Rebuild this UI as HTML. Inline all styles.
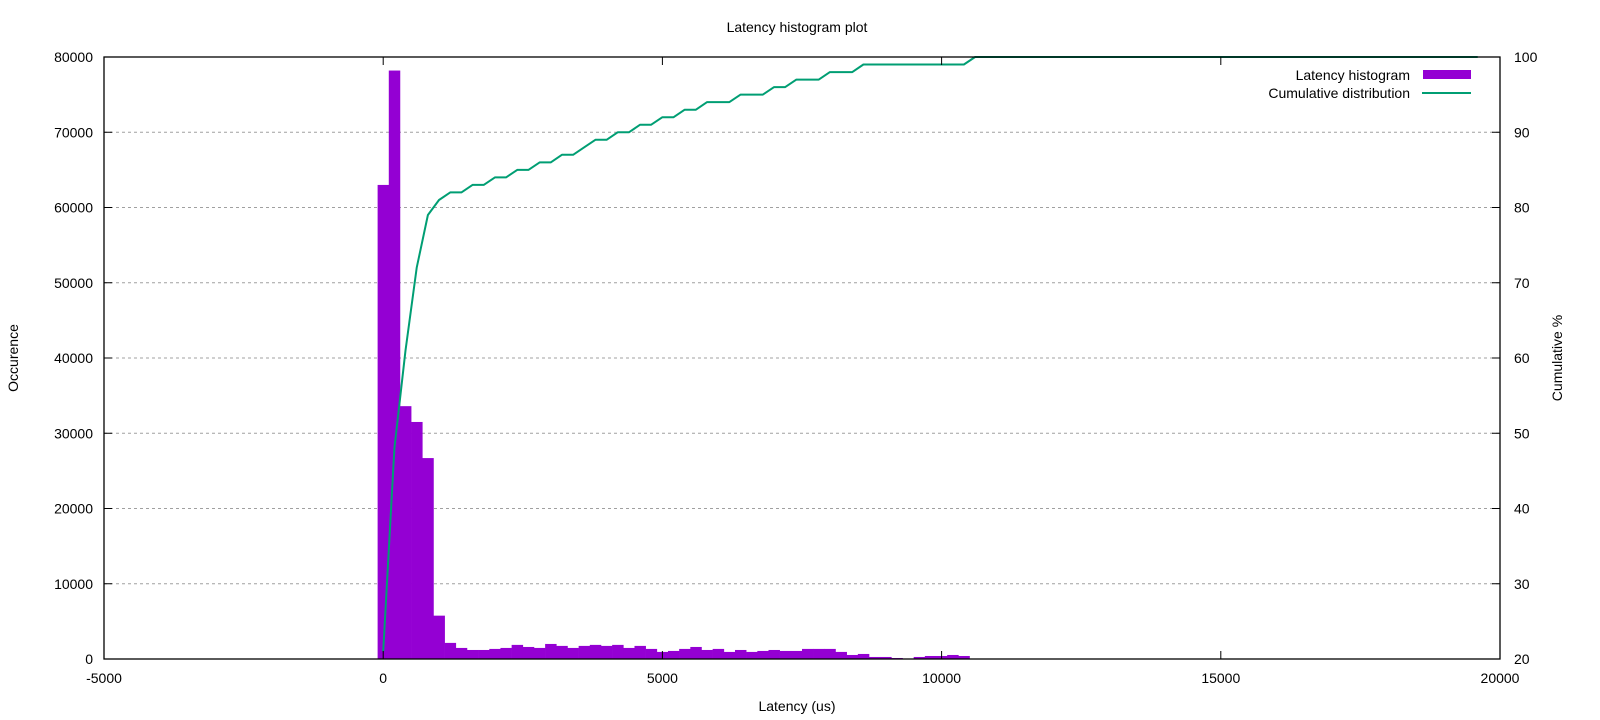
<!DOCTYPE html>
<html><head><meta charset="utf-8">
<style>
html,body{margin:0;padding:0;background:#fff;}
svg{display:block;font-family:"Liberation Sans",Arial,sans-serif;}
</style></head>
<body>
<svg id="chart" width="1600" height="720" viewBox="0 0 1600 720">
<text x="797" y="32" text-anchor="middle" font-size="14">Latency histogram plot</text>
<text x="797" y="711" text-anchor="middle" font-size="14">Latency (us)</text>
<text transform="translate(18,358) rotate(-90)" text-anchor="middle" font-size="14">Occurence</text>
<text transform="translate(1562,358) rotate(-90)" text-anchor="middle" font-size="14">Cumulative %</text>
<g id="grid"></g>
<g id="bars"></g>
<g id="cdf"></g>
<g id="axes"></g>
<g>
<text x="1410" y="80" text-anchor="end" font-size="14">Latency histogram</text>
<rect x="1423" y="70" width="48" height="9" fill="#9400d3"></rect>
<text x="1410" y="98" text-anchor="end" font-size="14">Cumulative distribution</text>
<line x1="1422" y1="93" x2="1471" y2="93" stroke="#009e73" stroke-width="2"></line>
</g>
</svg>
<script>
const binCenters = [0,200,400,600,800,1000,1200,1400,1600,1800,2000,2200,2400,2600,2800,3000,3200,3400,3600,3800,4000,4200,4400,4600,4800,5000,5200,5400,5600,5800,6000,6200,6400,6600,6800,7000,7200,7400,7600,7800,8000,8200,8400,8600,8800,9000,9200,9400,9600,9800,10000,10200,10400];
const binCounts = [63000,78200,33600,31500,26700,5760,2140,1470,1200,1200,1340,1470,1875,1600,1470,2000,1740,1470,1740,1875,1740,1875,1470,1740,1340,940,1070,1340,1600,1200,1340,940,1200,940,1070,1200,1070,1070,1340,1340,1340,940,535,670,270,270,134,0,270,400,400,535,400];
const cdfX = [0,200,400,600,800,1000,1200,1400,1600,1800,2000,2200,2400,2600,2800,3000,3200,3400,3600,3800,4000,4200,4400,4600,4800,5000,5200,5400,5600,5800,6000,6200,6400,6600,6800,7000,7200,7400,7600,7800,8000,8200,8400,8600,10400,10600,19600];
const cdfPct = [21,48,61,72,79,81,82,82,83,83,84,84,85,85,86,86,87,87,88,89,89,90,90,91,91,92,92,93,93,94,94,94,95,95,95,96,96,97,97,97,98,98,98,99,99,100,100];
const xTicks = [-5000,0,5000,10000,15000,20000];
const yTicks = [0,10000,20000,30000,40000,50000,60000,70000,80000];
const y2Ticks = [20,30,40,50,60,70,80,90,100];

const L=104,R=1500,T=57,B=659;
const X=v=>L+(v+5000)/25000*(R-L);
const Y=v=>B-v/80000*(B-T);
const Y2=v=>B-(v-20)/80*(B-T);
const NS='http://www.w3.org/2000/svg';
function mk(tag,attrs,parent){const e=document.createElementNS(NS,tag);for(const k in attrs)e.setAttribute(k,attrs[k]);parent.appendChild(e);return e;}
const grid=document.getElementById('grid'),bars=document.getElementById('bars'),cdf=document.getElementById('cdf'),axes=document.getElementById('axes');

yTicks.forEach(t=>{
  if(t>0&&t<80000){const g=mk('line',{x1:L,x2:R,y1:Y(t),y2:Y(t),stroke:'#a0a0a0','stroke-width':1,'stroke-dasharray':'3,3'},grid);
  
  }
  const tk=mk('line',{x1:L,x2:L+8,y1:Y(t),y2:Y(t),stroke:'#000'},axes);
  
  
  const lb=mk('text',{x:L-11,y:Y(t)+5,'text-anchor':'end','font-size':14},axes);lb.textContent=t;
  
  
});
y2Ticks.forEach(t=>{
  const tk=mk('line',{x1:R-8,x2:R,y1:Y2(t),y2:Y2(t),stroke:'#000'},axes);
  
  
  const lb=mk('text',{x:R+14,y:Y2(t)+5,'text-anchor':'start','font-size':14},axes);lb.textContent=t;
  
  
});
xTicks.forEach(t=>{
  const tk=mk('line',{x1:X(t),x2:X(t),y1:B,y2:B-8,stroke:'#000'},axes);
  
  
  const tk2=mk('line',{x1:X(t),x2:X(t),y1:T,y2:T+8,stroke:'#000'},axes);
  
  
  const lb=mk('text',{x:X(t),y:B+24,'text-anchor':'middle','font-size':14},axes);lb.textContent=t;
  
  
});
const frame=mk('rect',{x:L,y:T,width:R-L,height:B-T,fill:'none',stroke:'#000','stroke-width':1.3},axes);



binCenters.forEach((c,i)=>{
  const x0=X(c-100),x1=X(c+100),y=Y(binCounts[i]);
  const r=mk('rect',{x:x0,y:y,width:x1-x0+0.3,height:B-y,fill:'#9400d3'},bars);
  
  
});
const pts=cdfX.map((v,i)=>X(v).toFixed(1)+','+Y2(cdfPct[i]).toFixed(1)).join(' ');
const pl=mk('polyline',{points:pts,fill:'none',stroke:'#009e73','stroke-width':2,'stroke-linejoin':'round'},cdf);


</script>
</body></html>
